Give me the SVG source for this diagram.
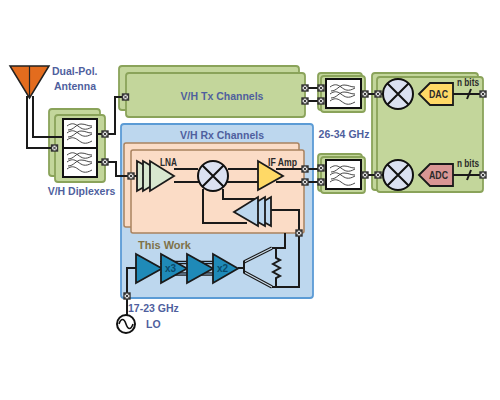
<svg xmlns="http://www.w3.org/2000/svg" width="500" height="400" viewBox="0 0 500 400">
<style>
.g{fill:#c3d69b;stroke:#8aa35a;stroke-width:1.800}
.o{fill:#fbdcc6;stroke:#a9825f;stroke-width:1.500}
.w{fill:none;stroke:#1a1a1a;stroke-width:2}
.f{fill:#fff;stroke:#111;stroke-width:2}
.wv{fill:none;stroke:#333;stroke-width:.9}
.t{font-family:"Liberation Sans",Arial,sans-serif;font-weight:bold;font-size:10.500px;fill:#4f5f9e}
.k{font-family:"Liberation Sans",Arial,sans-serif;font-weight:bold;font-size:10px;fill:#2a2a2a}
.tri{stroke:#1a1a1a;stroke-width:1.800;stroke-linejoin:miter}
.mx{fill:#dbe1f1;stroke:#111;stroke-width:2}
</style>
<defs>
<g id="p"><rect x="-3.700" y="-3.700" width="7.400" height="7.400" fill="#333"/><circle r="2.500" fill="#ddd"/><path d="M-1.600-1.600L1.600 1.600M-1.600 1.600L1.600-1.600" stroke="#111" stroke-width=".8"/></g>
<g id="wave"><path class="wv" d="M-14-7c4-3 7-3 11 0s7 5 14 1"/><path class="wv" d="M-14 0c4-3 7-3 11 0s7 5 14 1"/><path class="wv" d="M-14 7c4-3 7-3 11 0s7 5 14 1"/><path class="wv" d="M-13-3c6 0 8-6 13-6s6 2 11 2"/><path class="wv" d="M-13 4c6 0 8-6 13-6s6 2 11 2"/></g>
<g id="x"><circle r="15" class="mx"/><path d="M-10.500-10.500L10.500 10.500M-10.500 10.500L10.500-10.500" stroke="#111" stroke-width="2"/></g>
</defs>

<g id="rx-panel"><rect x="121" y="124" width="192" height="174" rx="3" fill="#bdd7ee" stroke="#5b9bd5" stroke-width="1.800"/><text class="t" x="222" y="139" text-anchor="middle">V/H Rx Channels</text></g>
<g id="rx-orange"><rect class="o" x="124" y="143" width="175" height="84" rx="2"/><rect class="o" x="131" y="150" width="173" height="83" rx="2"/></g>
<g id="tx-channels"><rect class="g" x="119" y="66" width="180" height="44" rx="3"/><rect class="g" x="126" y="73" width="179" height="44" rx="3"/><text class="t" x="222" y="100" text-anchor="middle">V/H Tx Channels</text></g>
<g id="diplexer"><rect class="g" x="49" y="109" width="51" height="67" rx="3"/><rect class="g" x="55" y="115" width="50" height="67" rx="3"/><rect class="f" x="63" y="119" width="34" height="58"/><path d="M63 148H97" stroke="#111" stroke-width="2"/><use href="#wave" x="81" y="133"/><use href="#wave" x="81" y="162"/><text class="t" x="81.500" y="195" text-anchor="middle">V/H Diplexers</text></g>
<g id="filter-top"><rect class="g" x="318" y="73" width="44" height="37" rx="3"/><rect class="g" x="321" y="76" width="44" height="36" rx="3"/><rect class="f" x="326" y="79" width="35" height="29"/><use href="#wave" x="344" y="94"/></g>
<g id="filter-bottom"><rect class="g" x="318" y="154" width="44" height="37" rx="3"/><rect class="g" x="321" y="157" width="44" height="36" rx="3"/><rect class="f" x="326" y="160" width="35" height="29"/><use href="#wave" x="344" y="175"/></g>
<g id="if-block"><rect class="g" x="372" y="73" width="106" height="117" rx="3"/><rect class="g" x="377" y="77" width="106" height="115" rx="3"/></g>

<g id="connectors">
<path class="w" d="M27 96V148H54M33 96V137H63M97 134H105M97 162H105M105 134H115V97H125M105 162H116V176H131M131 176H137"/>
<path class="w" d="M174 169H198M174 182H200M228 169H258M226 182H258M276 169H305M276 182H305M203 189V223H247M223 189V199H258M271 210H299V233M285 233V248H272M299 233V287H272M305 88H321M305 101H321M305 169H321M305 182H321M361 94H383M361 175H383M453 94H483M453 175H483"/>
<path class="w" d="M467 99L471 89M467 180L471 170"/>
<path class="w" d="M127 296V268H136M127 296V315M238 268H244"/>
<path d="M160 262.500H214M160 274H214" stroke="#1a1a1a" stroke-width="3.500" fill="none"/>
<path d="M160 262.500H214M160 274H214" stroke="#8fb8dc" stroke-width="1.200" fill="none"/>
<path d="M244 262L272 248M244 272L272 287" stroke="#1a1a1a" stroke-width="3.400" fill="none"/>
<path d="M244 262L272 248M244 272L272 287" stroke="#cfe0f0" stroke-width="1.100" fill="none"/>
<path d="M244 261V273" stroke="#1a1a1a" stroke-width="2" fill="none"/>
<path d="M272 248H276V258L280 260L273 264L280 268L273 272L280 276L276 278V287H272" class="w" stroke-width="1.600"/>
</g>

<g id="antenna"><path d="M10 66H49L29.500 98Z" fill="#e36c1e" stroke="#222" stroke-width="1.500"/><path d="M29.500 66V98" stroke="#222" stroke-width="1.200"/><text class="t" x="52" y="75">Dual-Pol.</text><text class="t" x="54" y="90">Antenna</text></g>

<g id="lna"><path class="tri" fill="#d8e7cf" d="M137 161V191L163 176Z"/><path class="tri" fill="#d8e7cf" d="M143 161V191L168 176Z"/><path class="tri" fill="#d8e7cf" d="M150 161V191L174 176Z"/><text class="k" x="160" y="166" textLength="17" lengthAdjust="spacingAndGlyphs">LNA</text></g>
<g id="rx-mixer"><use href="#x" x="213" y="176"/></g>
<g id="if-amp"><path class="tri" fill="#ffd966" d="M258 161V190L283 176Z"/><text class="k" x="268" y="166" textLength="29" lengthAdjust="spacingAndGlyphs">IF Amp</text></g>
<g id="lo-buffer"><path class="tri" fill="#bdd7ee" d="M271 197V226L246 212Z"/><path class="tri" fill="#bdd7ee" d="M265 197V226L240 212Z"/><path class="tri" fill="#bdd7ee" d="M258 197V226L234 212Z"/></g>

<g id="lo-chain">
<text x="138" y="249" font-family="'Liberation Sans',Arial,sans-serif" font-weight="bold" font-size="11px" fill="#7f7248">This Work</text>
<path class="tri" fill="#1f8ab8" d="M136 254V283L162 268.500Z"/>
<path class="tri" fill="#1f8ab8" d="M161 254V283L187 268.500Z"/>
<path class="tri" fill="#1f8ab8" d="M187 254V283L213 268.500Z"/>
<path class="tri" fill="#1f8ab8" d="M213 254V283L238 268.500Z"/>
<text x="165" y="272" font-family="'Liberation Sans',Arial,sans-serif" font-weight="bold" font-size="10px" fill="#0b4a6b">x3</text>
<text x="217" y="272" font-family="'Liberation Sans',Arial,sans-serif" font-weight="bold" font-size="10px" fill="#0b4a6b">x2</text>
</g>
<g id="lo-source"><circle cx="126" cy="324" r="9" fill="#fff" stroke="#111" stroke-width="2"/><path d="M119 324c2-6 5-6 7 0s5 6 7 0" fill="none" stroke="#111" stroke-width="1.600"/><text class="t" x="128" y="312">17-23 GHz</text><text class="t" x="146" y="328">LO</text></g>

<g id="tx-mixer"><use href="#x" x="398" y="94"/></g>
<g id="adc-mixer"><use href="#x" x="398" y="175"/></g>
<g id="dac"><path class="tri" fill="#ffd966" d="M419 94L430 83H453V105H430Z"/><text class="k" x="429" y="98" textLength="19" lengthAdjust="spacingAndGlyphs">DAC</text><text class="k" x="457" y="86" textLength="22" lengthAdjust="spacingAndGlyphs">n bits</text></g>
<g id="adc"><path class="tri" fill="#d99694" d="M419 175L430 164H453V186H430Z"/><text class="k" x="429" y="179" textLength="19" lengthAdjust="spacingAndGlyphs">ADC</text><text class="k" x="457" y="167" textLength="22" lengthAdjust="spacingAndGlyphs">n bits</text></g>
<text class="t" x="344" y="138" text-anchor="middle">26-34 GHz</text>

<g id="ports">
<use href="#p" x="54.500" y="148"/><use href="#p" x="105" y="134"/><use href="#p" x="105" y="162"/><use href="#p" x="125.500" y="97"/><use href="#p" x="131" y="176"/>
<use href="#p" x="305" y="88"/><use href="#p" x="305" y="101"/><use href="#p" x="321" y="88"/><use href="#p" x="321" y="101"/><use href="#p" x="365" y="94"/><use href="#p" x="378" y="94"/>
<use href="#p" x="305" y="169"/><use href="#p" x="305" y="182"/><use href="#p" x="321" y="168"/><use href="#p" x="321" y="182"/><use href="#p" x="365" y="175"/><use href="#p" x="378" y="175"/>
<use href="#p" x="483" y="94"/><use href="#p" x="483" y="175"/><use href="#p" x="299" y="233"/><use href="#p" x="127" y="296"/>
</g>
</svg>
